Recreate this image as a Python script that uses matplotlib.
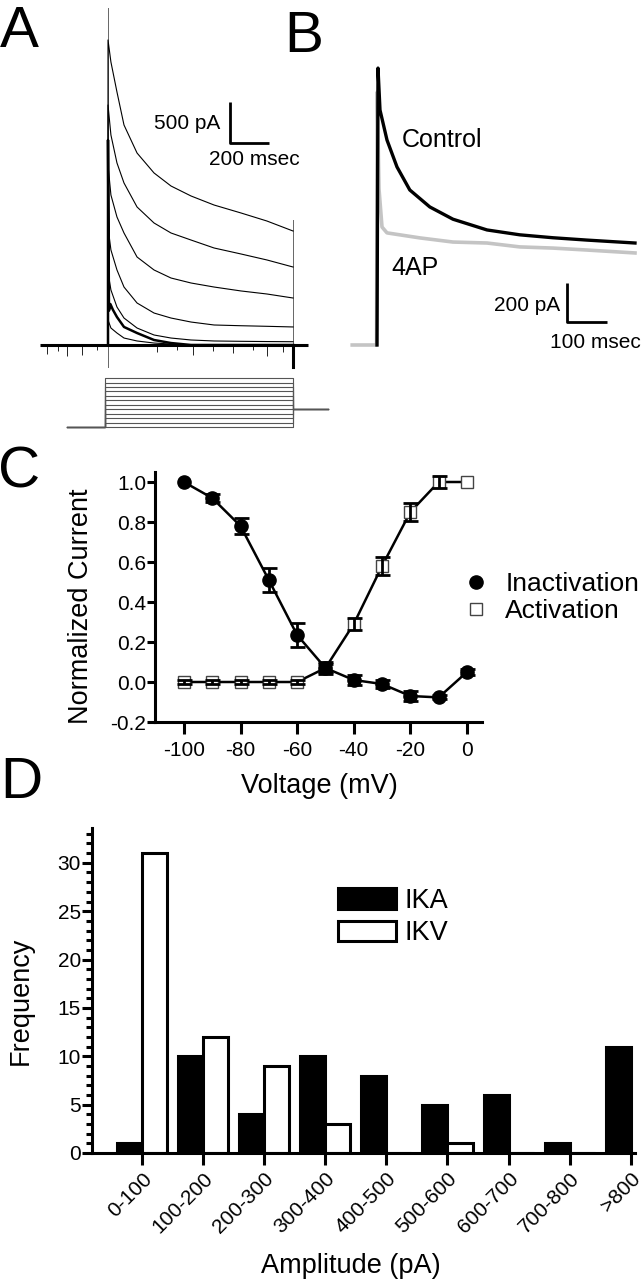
import matplotlib.pyplot as plt
import numpy as np
from matplotlib.lines import Line2D
from matplotlib.patches import Patch
from matplotlib.ticker import MultipleLocator

plt.rcParams['font.family'] = ['Liberation Sans', 'DejaVu Sans']
plt.rcParams['axes.unicode_minus'] = False

W, H = 642, 1280

# ---- A: family of K+ current sweeps (time in ms, current in pA)
a_t = [0, 15, 46, 82, 149, 236, 323, 426, 544, 682, 815, 949]
a_sweep1 = [3720, 3451, 3085, 2683, 2341, 2098, 1939, 1817, 1707, 1610, 1512, 1390]
a_sweep2 = [2927, 2561, 2220, 1976, 1683, 1488, 1366, 1280, 1183, 1110, 1037, 951]
a_sweep3 = [2195, 1829, 1561, 1366, 1073, 915, 817, 756, 707, 659, 622, 573]
a_sweep4 = [1439, 1159, 915, 707, 512, 390, 329, 280, 244, 235, 228, 220]
a_sweep5 = [890, 671, 463, 329, 207, 122, 85, 61, 49, 45, 42, 40]
a_sweep6 = [305, 207, 146, 85, 49, 24, 12, 0, 0, 0, 0, 0]
a_thick_t = [0, 5, 12, 25, 46, 82, 149, 236, 323, 426, 949]
a_thick_i = [2500, 420, 500, 430, 341, 220, 146, 61, 24, 0, 0]
a_base_t = [-349, 1026]
a_spike_t = [-313, -256, -210, -133, -56, 251, 354, 436, 538, 641, 744, 815, 897]
a_spike_i = [-110, -70, -140, -120, -60, -90, -60, -120, -70, -100, -60, -130, -80]
a_artifact = [-268, 4110]
a_end_artifact = [-268, 1524]

# voltage protocol (mV)
prot_levels = [-100, -90, -80, -70, -60, -50, -40, -30, -20, -10, 0, 10]
prot_hold = -100
prot_post = -60
prot_t = [-210, -15, 949, 1128]

# ---- B: control vs 4AP (ms, pA)
b_ctrl_t = [0, 2.5, 7.5, 25, 50, 82, 132, 190, 275, 357, 440, 525, 645]
b_ctrl_i = [0, 1420, 1205, 1051, 913, 795, 708, 645, 590, 565, 550, 538, 523]
b_4ap_t = [-62, -1, 0.5, 5, 12.5, 25, 108, 190, 275, 357, 440, 525, 645]
b_4ap_i = [0, 0, 1297, 800, 605, 575, 549, 528, 523, 503, 497, 487, 472]

# ---- C: activation / inactivation curves
c_volt = [-100, -90, -80, -70, -60, -50, -40, -30, -20, -10, 0]
c_inact = [1.0, 0.92, 0.78, 0.51, 0.235, 0.07, 0.01, -0.01, -0.07, -0.077, 0.05]
c_inact_err = [0, 0.022, 0.04, 0.058, 0.06, 0.03, 0.025, 0.02, 0.027, 0.01, 0.015]
c_act = [0.0, 0.0, 0.0, 0.0, 0.0, 0.07, 0.29, 0.58, 0.85, 1.0, 1.0]
c_act_err = [0.01, 0.01, 0.01, 0.01, 0.01, 0.02, 0.03, 0.045, 0.045, 0.03, 0]

# ---- D: amplitude histogram
d_bins = ['0-100', '100-200', '200-300', '300-400', '400-500',
          '500-600', '600-700', '700-800', '>800']
d_ika = [1, 10, 4, 10, 8, 5, 6, 1, 11]
d_ikv = [31, 12, 9, 3, 0, 1, 0, 0, 0]

fig = plt.figure(figsize=(W / 100, H / 100), dpi=100)


def px_axes(x0, y0, x1, y1):
    return fig.add_axes([x0 / W, 1 - y1 / H, (x1 - x0) / W, (y1 - y0) / H])


def px_limits(ax, box, origin, sx, sy):
    x0, y0, x1, y1 = box
    ox, oy = origin
    ax.set_xlim((x0 - ox) / sx, (x1 - ox) / sx)
    ax.set_ylim((oy - y1) / sy, (oy - y0) / sy)


# panel A
boxA = (30, 0, 330, 372)
axa = px_axes(*boxA)
px_limits(axa, boxA, (108, 345), 0.195, 0.082)
axa.axis('off')
axa.plot([0, 0], a_artifact, color='#666666', lw=0.7)
axa.plot([a_t[-1], a_t[-1]], a_end_artifact, color='#666666', lw=0.7)
axa.plot(a_base_t, [0, 0], color='black', lw=2.2, solid_capstyle='butt')
axa.vlines(a_spike_t, 0, a_spike_i, color='black', lw=0.6)
axa.plot([a_t[-1], a_t[-1]], [0, a_artifact[0]], color='black', lw=2.2)
for sw in [a_sweep1, a_sweep2, a_sweep3, a_sweep4, a_sweep5, a_sweep6]:
    axa.plot([0] + a_t, [0] + sw, color='black', lw=0.8)
axa.plot([0] + a_thick_t, [0] + a_thick_i, color='black', lw=1.8)
# scale bar 500 pA / 200 ms
axa.plot([626, 626, 826], [2963, 2463, 2463], color='black', lw=2, solid_capstyle='butt')
axa.text(574, 2707, '500 pA', ha='right', va='center', fontsize=15)
axa.text(518, 2268, '200 msec', ha='left', va='center', fontsize=15)

boxP = (30, 370, 330, 440)
axp = px_axes(*boxP)
px_limits(axp, boxP, (108, 382.5), 0.195, 0.445)
axp.axis('off')
for v in prot_levels:
    axp.plot([prot_t[0], prot_t[1], prot_t[1], prot_t[2], prot_t[2], prot_t[3]],
             [prot_hold, prot_hold, v, v, prot_post, prot_post],
             color='#555555', lw=0.8)

# panel B
boxB = (340, 40, 642, 360)
axb = px_axes(*boxB)
px_limits(axb, boxB, (377, 345), 0.4, 0.195)
axb.axis('off')
axb.plot(b_4ap_t, b_4ap_i, color='#c4c4c4', lw=2.6)
axb.plot(b_ctrl_t, b_ctrl_i, color='black', lw=2.4)
axb.plot([475, 475, 575], [318, 118, 118], color='black', lw=2, solid_capstyle='butt')
axb.text(457, 205, '200 pA', ha='right', va='center', fontsize=15)
axb.text(432, 15, '100 msec', ha='left', va='center', fontsize=15)
axb.text(62, 1051, 'Control', ha='left', va='center', fontsize=18)
axb.text(37, 395, '4AP', ha='left', va='center', fontsize=18)

# panel C
boxC = (155, 472, 482, 722)
axc = px_axes(*boxC)
axc.set_xlim(-110.2, 5.3)
axc.set_ylim(-0.2, 1.05)
v = np.array(c_volt)
act, act_e = np.array(c_act), np.array(c_act_err)
ina, ina_e = np.array(c_inact), np.array(c_inact_err)
axc.plot(v, act, color='black', lw=1.8, marker='s', ms=8.5, mfc='white', mec='#444444', mew=1)
m = act_e > 0
axc.errorbar(v[m], act[m], yerr=act_e[m], fmt='none', ecolor='black',
             elinewidth=2, capsize=5.4, capthick=2)
axc.plot(v, ina, color='black', lw=1.8, marker='o', ms=9.5)
m = ina_e > 0
axc.errorbar(v[m], ina[m], yerr=ina_e[m], fmt='none', ecolor='black',
             elinewidth=2, capsize=5.4, capthick=2)
axc.set_xticks([-100, -80, -60, -40, -20, 0], ['-100', '-80', '-60', '-40', '-20', '0'])
yt = [-0.2, 0.0, 0.2, 0.4, 0.6, 0.8, 1.0]
axc.set_yticks(yt, ['%.1f' % y for y in yt])
for s in ['top', 'right']:
    axc.spines[s].set_visible(False)
for s in ['left', 'bottom']:
    axc.spines[s].set_linewidth(2.2)
axc.tick_params(axis='x', length=8.6, width=2.2, pad=5, labelsize=15)
axc.tick_params(axis='y', length=5.8, width=2.2, pad=0.5, labelsize=15)
axc.set_xlabel('Voltage (mV)', fontsize=19.5)
axc.set_ylabel('Normalized Current', fontsize=19.5)
axc.xaxis.set_label_coords(0.5015, -0.204)
axc.yaxis.set_label_coords(-0.1865, 0.464)
hc = [Line2D([], [], ls='none', marker='o', ms=9.5, color='black'),
      Line2D([], [], ls='none', marker='s', ms=8.5, mfc='white', mec='#444444', mew=1)]
axc.legend(hc, ['Inactivation', 'Activation'], loc='center left',
           bbox_to_anchor=(463 / W, 1 - 597.5 / H), bbox_transform=fig.transFigure,
           frameon=False, fontsize=19, handlelength=1, handletextpad=0.6,
           borderpad=0, borderaxespad=0, labelspacing=0.1)

# panel D
boxD = (92, 828, 635, 1153)
axd = px_axes(*boxD)
axd.set_xlim(-0.82, 8.07)
axd.set_ylim(0, 33.6)
x = np.arange(len(d_bins))
bw = 0.41
axd.bar(x - bw, d_ika, bw, align='edge', color='black', edgecolor='black', lw=2.2)
axd.bar(x, d_ikv, bw, align='edge', color='white', edgecolor='black', lw=2.2)
axd.set_xticks(x, d_bins, rotation=45, ha='right', va='top', rotation_mode='anchor')
axd.set_yticks(range(0, 31, 5))
axd.yaxis.set_minor_locator(MultipleLocator(1))
for s in ['top', 'right']:
    axd.spines[s].set_visible(False)
for s in ['left', 'bottom']:
    axd.spines[s].set_linewidth(2.2)
axd.tick_params(axis='x', length=8.6, width=2.2, pad=3, labelsize=15)
axd.tick_params(axis='y', which='major', length=7.5, width=2.2, pad=0.5, labelsize=15)
axd.tick_params(axis='y', which='minor', length=4.5, width=2.2)
axd.set_xlabel('Amplitude (pA)', fontsize=19.5)
axd.set_ylabel('Frequency', fontsize=19.5)
axd.xaxis.set_label_coords(0.477, -0.3077)
axd.yaxis.set_label_coords(-0.1068, 0.4677)
hd = [Patch(facecolor='black', edgecolor='black', lw=2.2),
      Patch(facecolor='white', edgecolor='black', lw=2.2)]
axd.legend(hd, ['IKA', 'IKV'], loc='center left',
           bbox_to_anchor=(338 / W, 1 - 917 / H), bbox_transform=fig.transFigure,
           frameon=False, fontsize=19.5, handlelength=2.14, handleheight=0.8,
           handletextpad=0.33, borderpad=0, borderaxespad=0, labelspacing=0.25)

# panel letters
for lab, px, py in [('A', 0, 47), ('B', 284, 52), ('C', -2, 487), ('D', 0, 798)]:
    fig.text(px / W, 1 - py / H, lab, fontsize=42, va='baseline', ha='left')

fig.savefig('out.png', dpi=100)
